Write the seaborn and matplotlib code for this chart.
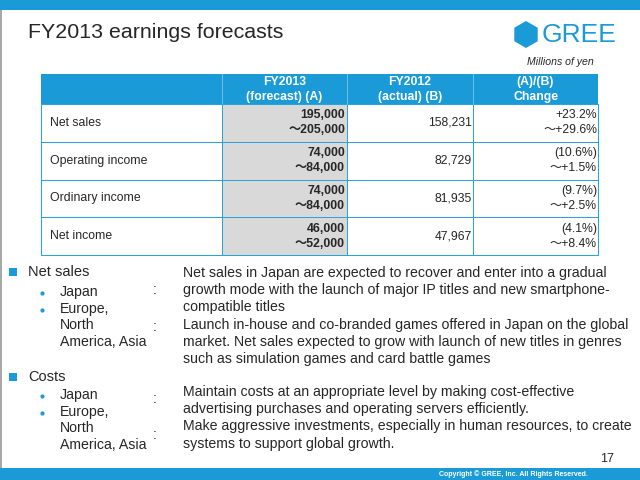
import numpy as np
import pandas as pd
import seaborn as sns
import matplotlib.pyplot as plt
from matplotlib.colors import ListedColormap
from matplotlib.patches import Rectangle, RegularPolygon

# slide data
title = 'FY2013 earnings forecasts'
unit_note = 'Millions of yen'
col_top = ['FY2013', 'FY2012', '(A)/(B)']
col_bottom = ['(forecast) (A)', '(actual) (B)', 'Change']
row_labels = ['Net sales', 'Operating income', 'Ordinary income', 'Net income']
forecast_low = [195000, 74000, 74000, 46000]
forecast_high = [205000, 84000, 84000, 52000]
actual = [158231, 82729, 81935, 47967]
change_low = ['+23.2%', '(10.6%)', '(9.7%)', '(4.1%)']
change_high = ['+29.6%', '+1.5%', '+2.5%', '+8.4%']

sales_heads = ['Japan', 'Europe,\nNorth\nAmerica, Asia']
sales_text = ['Net sales in Japan are expected to recover and enter into a gradual',
              'growth mode with the launch of major IP titles and new smartphone-',
              'compatible titles',
              'Launch in-house and co-branded games offered in Japan on the global',
              'market. Net sales expected to grow with launch of new titles in genres',
              'such as simulation games and card battle games']
cost_heads = ['Japan', 'Europe,\nNorth\nAmerica, Asia']
cost_text = ['Maintain costs at an appropriate level by making cost-effective',
             'advertising purchases and operating servers efficiently.',
             'Make aggressive investments, especially in human resources, to create',
             'systems to support global growth.']
page_no = '17'
copyright_txt = 'Copyright \u00a9 GREE, Inc. All Rights Reserved.'

blue = '#1a9bd7'
grid_blue = '#2ba3d6'
gray = '#d9d9d9'

sns.set_style('white')
plt.rcParams['font.family'] = ['Liberation Sans', 'Noto Sans CJK JP', 'DejaVu Sans']

fig = plt.figure(figsize=(6.4, 4.8), dpi=100)

# table body (numeric columns) as a heatmap: gray forecast column
col_x = [41, 222, 347, 473, 598]
head_top, body_top, body_bot = 74, 104, 255
shade = pd.DataFrame({'A': [1] * 4, 'B': [0] * 4, 'C': [0] * 4}, index=row_labels)
tab_ax = fig.add_axes([col_x[1] / 640, 1 - body_bot / 480,
                       (col_x[4] - col_x[1]) / 640, (body_bot - body_top) / 480])
sns.heatmap(shade, cmap=ListedColormap(['white', gray]), cbar=False,
            linewidths=0.5, linecolor=grid_blue, xticklabels=False,
            yticklabels=False, ax=tab_ax)

# main slide canvas in pixel coordinates
ax = fig.add_axes([0, 0, 1, 1])
ax.patch.set_alpha(0)
ax.set_xlim(0, 640)
ax.set_ylim(480, 0)
ax.axis('off')

# frame bars
ax.add_patch(Rectangle((0, 0), 640, 10, color=blue, lw=0))
ax.add_patch(Rectangle((0, 468), 640, 12, color=blue, lw=0))
ax.add_patch(Rectangle((0, 10), 2, 458, color='#a8a8a8', lw=0))

ax.text(28, 32, title, fontsize=15.4, va='center', ha='left')

# logo
ax.add_patch(RegularPolygon((526, 34.5), 6, radius=13.5, color=blue, lw=0))
ax.text(542, 34.5, 'GREE', fontsize=19, color=blue, va='center', ha='left')
ax.text(594, 62, unit_note, fontsize=7.6, style='italic', va='center', ha='right')

# header row
ax.add_patch(Rectangle((col_x[0], head_top), col_x[4] - col_x[0], body_top - head_top,
                       color=blue, lw=0))
for xv in col_x[1:4]:
    ax.plot([xv, xv], [head_top, body_top], color='#7cc8ec', lw=0.6)
for j in range(3):
    cx = (col_x[j + 1] + col_x[j + 2]) / 2
    ax.text(cx, 82, col_top[j], color='white', fontsize=8.8, weight='bold',
            ha='center', va='center')
    ax.text(cx, 97, col_bottom[j], color='white', fontsize=8.8, weight='bold',
            ha='center', va='center')

# label column and outer border of the body
row_h = (body_bot - body_top) / len(row_labels)
ax.add_patch(Rectangle((col_x[0], body_top), col_x[4] - col_x[0], body_bot - body_top,
                       fill=False, edgecolor=grid_blue, lw=0.75))
ax.plot([col_x[1], col_x[1]], [body_top, body_bot], color=grid_blue, lw=0.75)
for i, lab in enumerate(row_labels):
    yc = body_top + (i + 0.5) * row_h
    if i > 0:
        ax.plot([col_x[0], col_x[1]], [body_top + i * row_h] * 2, color=grid_blue, lw=0.75)
    ax.text(50, yc, lab, fontsize=8.8, va='center', ha='left')
    ax.text(col_x[2] - 2, yc - 7.5, f'{forecast_low[i]:,}', fontsize=8.8,
            weight='bold', ha='right', va='center')
    ax.text(col_x[2] - 2, yc + 7.5, f'\uff5e{forecast_high[i]:,}', fontsize=8.8,
            weight='bold', ha='right', va='center')
    ax.text(col_x[3] - 1, yc, f'{actual[i]:,}', fontsize=8.8, ha='right', va='center')
    ax.text(col_x[4] - 1, yc - 7.5, change_low[i], fontsize=8.8, ha='right', va='center')
    ax.text(col_x[4] - 1, yc + 7.5, '\uff5e' + change_high[i], fontsize=8.8,
            ha='right', va='center')

# bullet sections
line_h = 17.2
fs = 10.2


def section(y0, heading, heads, lines, colon_y, text_y0, head_y0):
    ax.add_patch(Rectangle((9, y0 - 4), 8, 8, color=blue, lw=0))
    ax.text(28, y0, heading, fontsize=fs + 0.3, va='center', ha='left')
    y = head_y0
    for h in heads:
        ax.plot(42, y, 'o', color=blue, ms=2)
        ax.text(60, y - 8, h, fontsize=fs, va='top', ha='left', linespacing=1.2)
        y += line_h * (h.count('\n') + 1)
    for cy in colon_y:
        ax.text(155, cy - 2, ':', fontsize=fs, va='center', ha='center')
    for k, ln in enumerate(lines):
        ax.text(183, text_y0 + k * line_h, ln, fontsize=fs, va='center', ha='left')


section(272, 'Net sales', sales_heads, sales_text, [292, 329], 273, 293)
section(377, 'Costs', cost_heads, cost_text, [401, 437], 392, 396)

ax.text(607, 459, page_no, fontsize=9, ha='center', va='center')
ax.text(513, 474, copyright_txt, fontsize=5, weight='bold', color='white',
        ha='center', va='center')

fig.savefig('out.png', dpi=100)
